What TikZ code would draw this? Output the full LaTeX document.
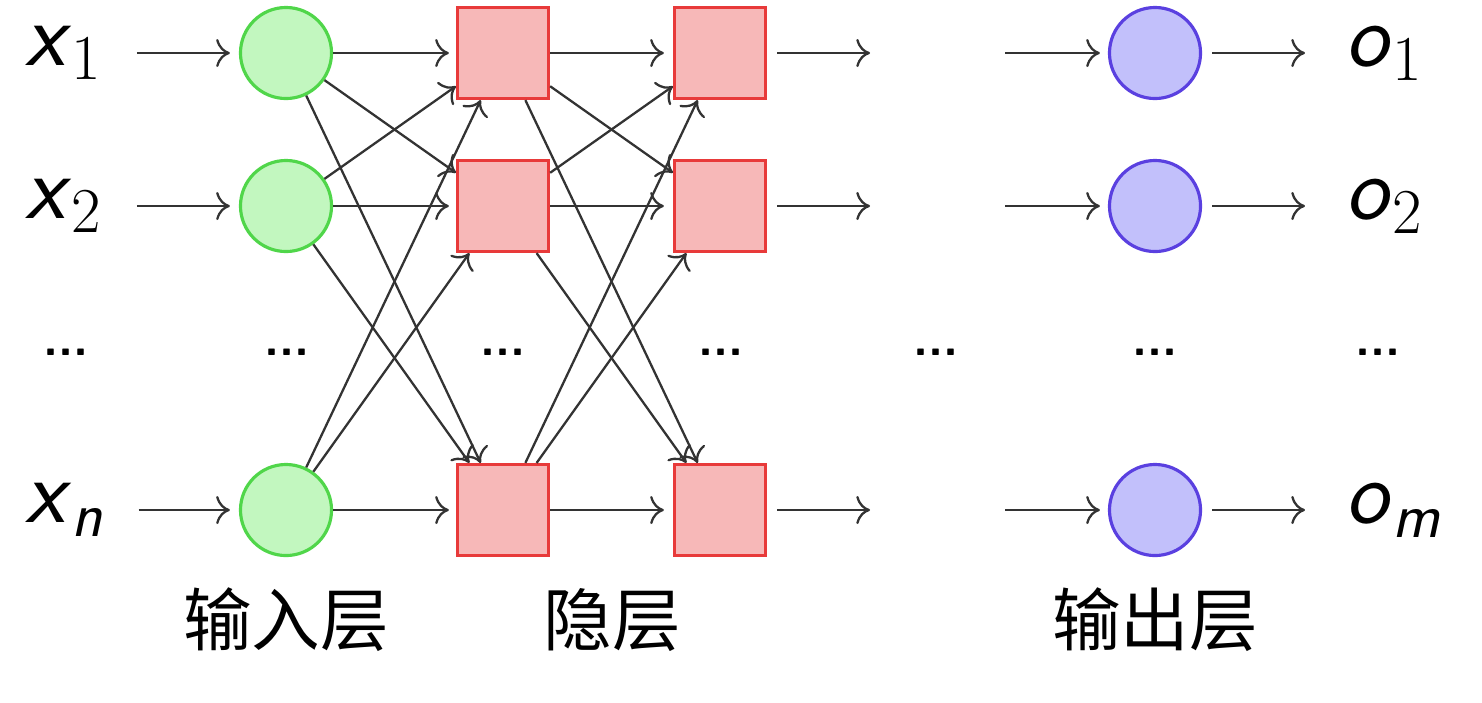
\RequirePackage{fix-cm}
\documentclass[tikz,border=0pt]{standalone}
\usepackage{amsmath}
\usepackage{fontspec}
\newfontfamily\cjk{Noto Sans CJK SC}
\usepackage{tikz}
\usetikzlibrary{arrows.meta,positioning,calc}
\definecolor{ingreen}{RGB}{194,247,191}
\definecolor{ingreenline}{RGB}{80,214,74}
\definecolor{hidred}{RGB}{247,184,184}
\definecolor{hidredline}{RGB}{232,58,58}
\definecolor{outblue}{RGB}{194,192,251}
\definecolor{outblueline}{RGB}{90,64,224}
\definecolor{linegray}{RGB}{51,51,51}
\newcommand{\unitlbl}[2]{\textsf{\textit{#1}}$_{#2}$}
\newcommand{\sfit}[1]{\textsf{\textit{#1}}}

\begin{document}
\begin{tikzpicture}[x=0.01cm,y=-0.01cm,
  conn/.style={-{To[length=3.9pt,width=8pt]},line width=0.65pt,draw=linegray},
  inunit/.style={circle,draw=ingreenline,fill=ingreen,line width=0.9pt,minimum size=0.91cm,inner sep=0pt},
  hidunit/.style={rectangle,draw=hidredline,fill=hidred,line width=0.9pt,minimum size=0.91cm,inner sep=0pt},
  outunit/.style={circle,draw=outblueline,fill=outblue,line width=0.9pt,minimum size=0.91cm,inner sep=0pt},
  sym/.style={font=\fontsize{26}{26}\selectfont,inner sep=0pt},
  dots/.style={font=\fontsize{14}{14}\selectfont\bfseries\sffamily,inner sep=0pt},
  layer/.style={font=\fontsize{19.5}{20}\selectfont\cjk,inner sep=0pt}]
\useasboundingbox (0,0) rectangle (1482,702);
% Units of every row
\foreach \r/\y/\s/\t in {1/53/1/1, 2/206/2/2, n/510/{\sfit{n}}/{\sfit{m}}} {
  \node[sym,anchor=west] (x\r) at (25,\y) {\unitlbl{x}{\s}};
  \node[inunit] (in\r) at (286,\y) {};
  \node[hidunit] (ha\r) at (503,\y) {};
  \node[hidunit] (hb\r) at (720,\y) {};
  \coordinate (e\r) at (870,\y);
  \coordinate (f\r) at (1005,\y);
  \node[outunit] (out\r) at (1155,\y) {};
  \node[sym,anchor=west] (o\r) at (1345,\y) {\unitlbl{o}{\t}};
  \draw[conn,shorten <=0.33cm,shorten >=0.09cm] (x\r) -- (in\r);
  \draw[conn,shorten >=0.07cm] (in\r) -- (ha\r);
  \draw[conn,shorten >=0.09cm] (ha\r) -- (hb\r);
  \draw[conn,shorten <=0.1cm] (hb\r) -- (e\r);
  \draw[conn,shorten >=0.08cm] (f\r) -- (out\r);
  \draw[conn,shorten <=0.1cm,shorten >=0.4cm] (out\r) -- (o\r);
}
% Crossing connectors between the layers
\foreach \a/\b/\dx/\dy in {1/2/-54/-43, 1/n/-26/-57, 2/1/-54/37, 2/n/-38/-58, n/1/-25/57, n/2/-40/57} {
  \draw[conn] (in\a) -- ([shift={(\dx,\dy)}]ha\b);
  \draw[conn] (ha\a) -- ([shift={(\dx,\dy)}]hb\b);
}
% Ellipsis row
\foreach \x [count=\i] in {66,287,503,721,936,1155,1378}
  \node[dots] (dots\i) at (\x,352) {...};
% Layer names
\node[layer] (inlbl) at (286,620) {输入层};
\node[layer] (hidlbl) at (612,620) {隐层};
\node[layer] (outlbl) at (1155,620) {输出层};
\end{tikzpicture}
\end{document}
